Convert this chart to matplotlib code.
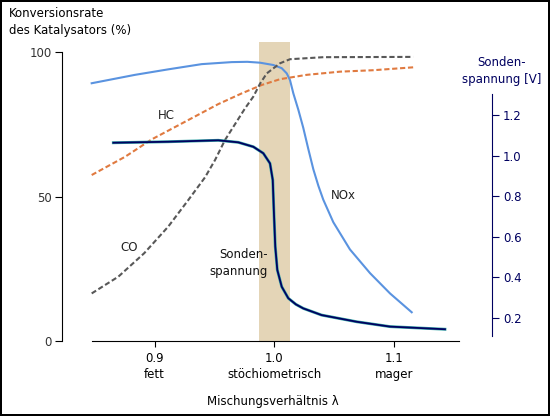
import matplotlib
matplotlib.use("Agg")
import matplotlib.pyplot as plt

# Mischungsverhaeltnis lambda and conversion rates (%)
nox_x = [0.8474, 0.8836, 0.9114, 0.9393, 0.9644, 0.9775, 0.988, 0.9992, 1.0062, 1.0104,
         1.0131, 1.0159, 1.0201, 1.0242, 1.0284, 1.0326, 1.0368, 1.0409, 1.0493,
         1.0632, 1.080, 1.0967, 1.1148]
nox_y = [89.2, 92.1, 94.0, 95.8, 96.5, 96.6, 96.3, 95.5, 94.4, 92.6,
         90.3, 85.7, 80.0, 73.8, 66.5, 59.5, 53.8, 49.0, 41.2,
         31.8, 23.6, 16.6, 10.1]

co_x = [0.8474, 0.8697, 0.8913, 0.9114, 0.9282, 0.9421, 0.9505, 0.9588, 0.9755,
        0.9825, 0.988, 0.9937, 1.0048, 1.0131, 1.041, 1.116]
co_y = [16.6, 22.4, 30.5, 39.7, 48.9, 56.7, 62.7, 69.6, 80.5,
        84.6, 89.0, 92.6, 96.1, 97.5, 98.2, 98.3]

hc_x = [0.8474, 0.8753, 0.8975, 0.9254, 0.9532, 0.9728, 0.9895, 1.0048, 1.027,
        1.0549, 1.0827, 1.1161]
hc_y = [57.5, 63.8, 69.8, 75.9, 82.0, 85.7, 88.6, 90.6, 92.1,
        93.2, 93.7, 94.7]

# Sondenspannung (V)
sonde_x = [0.8655, 0.9114, 0.9532, 0.9699, 0.9825, 0.9908, 0.9964, 0.9987, 0.9997,
           1.0008, 1.0025, 1.0062, 1.0117, 1.018, 1.0242, 1.0395, 1.0688, 1.0967, 1.1426]
sonde_y = [1.064, 1.069, 1.076, 1.066, 1.044, 1.012, 0.962, 0.880, 0.716,
           0.551, 0.436, 0.353, 0.296, 0.266, 0.246, 0.213, 0.180, 0.156, 0.143]

band = (0.9874, 1.0130)
xticks = [0.9, 1.0, 1.1]
xticklabels = ["0.9\nfett", "1.0\nstöchiometrisch", "1.1\nmager"]
left_ticks = [0, 50, 100]
right_ticks = [0.2, 0.4, 0.6, 0.8, 1.0, 1.2]

navy = "#000060"
plt.rcParams["font.family"] = ["DejaVu Sans"]
plt.rcParams["font.size"] = 8.5

fig = plt.figure(figsize=(5.5, 4.16), dpi=100)
fig.patch.set_edgecolor("black")
fig.patch.set_linewidth(1.5)
ax = fig.add_axes([0.11273, 0.17909, 0.78182, 0.73077])
ax.set_xlim(0.8226, 1.1819)
ax.set_ylim(0, 105)
ax.patch.set_alpha(0)

ax.axvspan(band[0], band[1], ymin=0, ymax=103.5 / 105, color="#e4d5b7", lw=0, zorder=0)

ax.plot(nox_x, nox_y, color="#5a93e0", lw=1.5, zorder=3)
ax.plot(hc_x, hc_y, color="#e07a40", lw=1.5, dashes=(2.5, 1.3), zorder=3)
ax.plot(co_x, co_y, color="#585858", lw=1.5, dashes=(2.5, 1.3), zorder=3)

for s in ["top", "right"]:
    ax.spines[s].set_visible(False)
ax.spines["bottom"].set_bounds(0.8477, 1.1543)
ax.spines["left"].set_bounds(0, 100)
ax.set_yticks(left_ticks)
ax.set_yticklabels([str(t) for t in left_ticks], color="#333333")
ax.set_xticks(xticks)
ax.set_xticklabels(xticklabels)
for lbl in ax.get_xticklabels():
    lbl.set_linespacing(1.35)
ax.tick_params(axis="y", length=5, pad=2.5)
ax.tick_params(axis="x", length=4.5, pad=3)

ax2 = ax.twinx()
ax2.set_ylim(0.0825, 1.5837)
for s in ["top", "left", "bottom"]:
    ax2.spines[s].set_visible(False)
ax2.spines["right"].set_bounds(0.110, 1.305)
ax2.spines["right"].set_color(navy)
ax2.set_yticks(right_ticks)
ax2.set_yticklabels([f"{t:.1f}" for t in right_ticks])
ax2.tick_params(axis="y", colors=navy, length=5, pad=3)
ax2.plot(sonde_x, sonde_y, color="#3aa8a8", lw=2.1, zorder=3)
ax2.plot(sonde_x, sonde_y, color=navy, lw=1.3, zorder=4)

ax.text(0.9101, 78.2, "HC", ha="center", va="center", color="#222222")
ax.text(0.8789, 32.5, "CO", ha="center", va="center", color="#222222")
ax.text(1.0576, 50.4, "NOx", ha="center", va="center", color="#222222")
ax.text(0.9947, 27.1, "Sonden-\nspannung", ha="right", va="center",
        color="#111111", linespacing=1.35, zorder=5)

fig.text(9 / 550, 1 - 22 / 416, "Konversionsrate\ndes Katalysators (%)",
         ha="left", va="center", linespacing=1.35)
fig.text(502 / 550, 1 - 71 / 416, "Sonden-\nspannung [V]", ha="center",
         va="center", color=navy, linespacing=1.35)
fig.text(273 / 550, 1 - 401 / 416, "Mischungsverhältnis λ", ha="center", va="center")

fig.savefig("out.png", dpi=100)
